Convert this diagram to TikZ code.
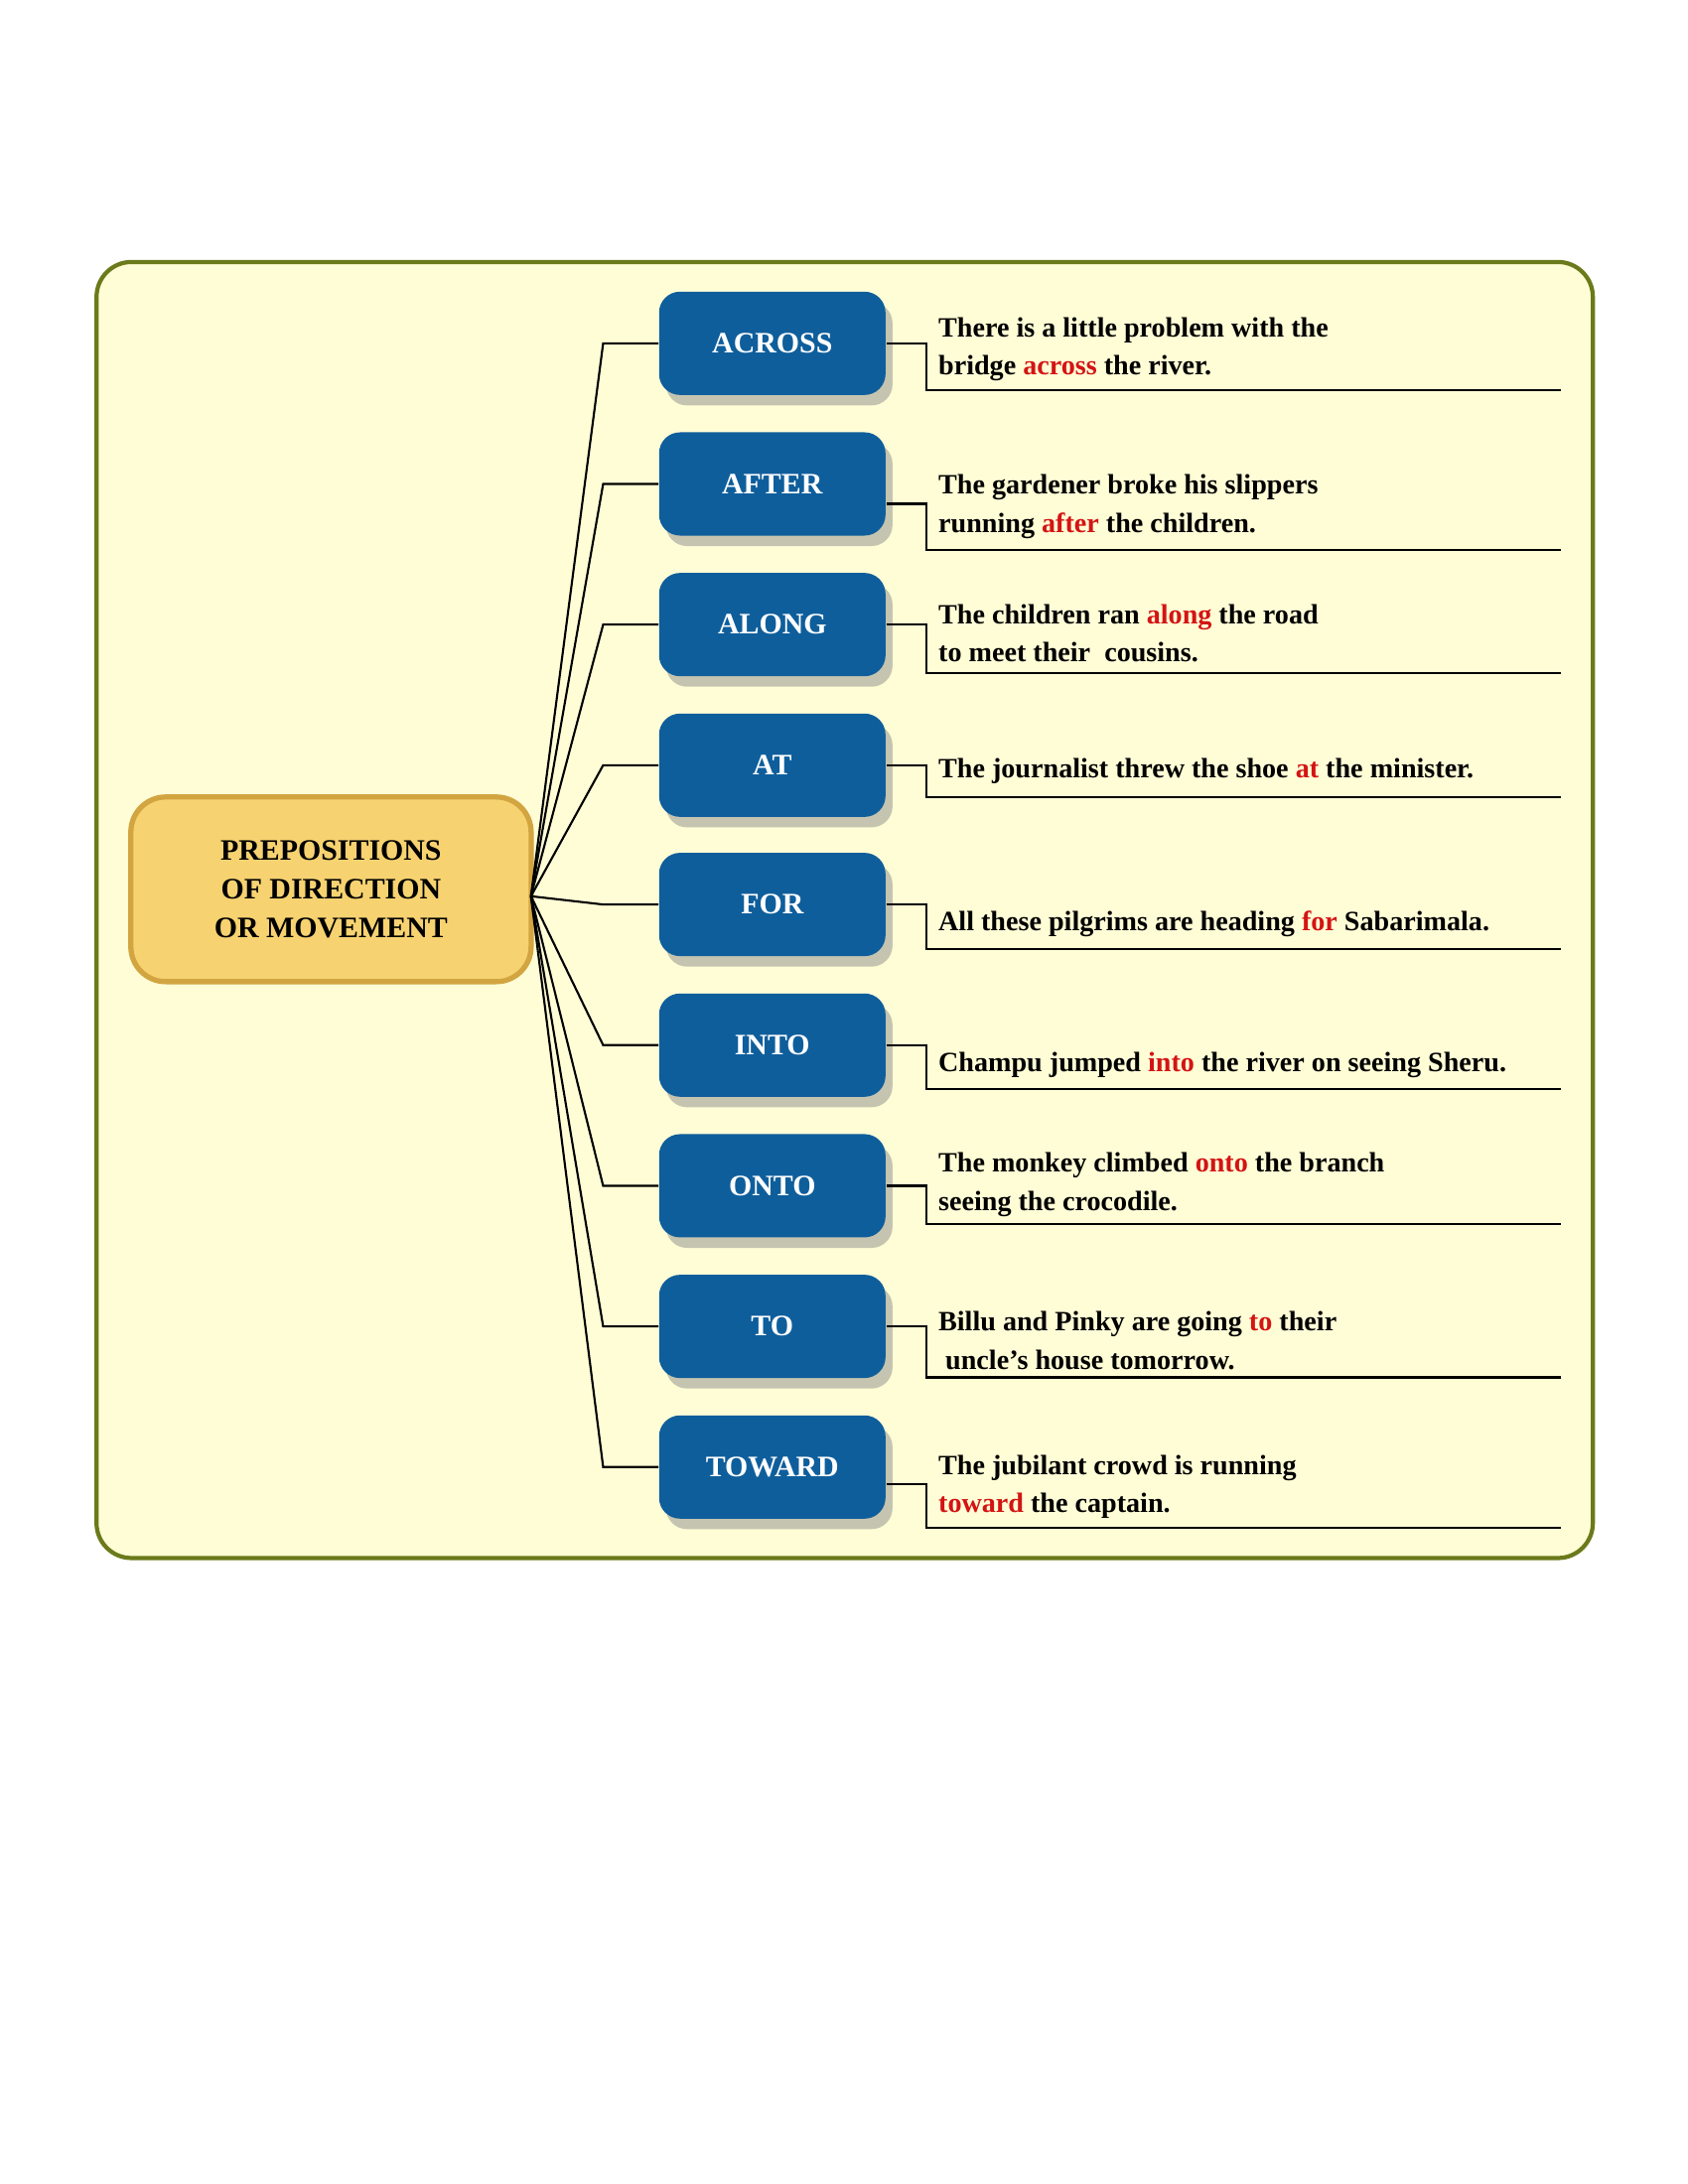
\documentclass[tikz,border=0pt]{standalone}
\usepackage{fontspec}
\setmainfont{Liberation Serif}
\usepackage{xcolor}
\usetikzlibrary{positioning,shadows}
\definecolor{panel}{HTML}{FFFDD6}
\definecolor{panelline}{HTML}{6B7A1A}
\definecolor{boxblue}{HTML}{0F5E9C}
\definecolor{gold}{HTML}{F6D271}
\definecolor{goldline}{HTML}{D2A541}
\definecolor{prep}{HTML}{D41414}
\newcommand{\prp}[1]{\textcolor{prep}{#1}}
\tikzset{
  word/.style={rectangle,rounded corners=6pt,fill=boxblue,text=white,
    minimum width=2.28cm,minimum height=1.04cm,font=\bfseries\fontsize{8.5}{10}\selectfont,
    drop shadow={shadow xshift=2pt,shadow yshift=-3pt,fill=black!45}},
  hubnode/.style={rectangle,rounded corners=10pt,fill=gold,draw=goldline,line width=1.5pt,
    minimum width=4.03cm,minimum height=1.86cm,align=center,
    font=\bfseries\fontsize{8.5}{11}\selectfont},
  sentence/.style={anchor=south west,align=left,inner sep=0pt,
    font=\bfseries\fontsize{8}{11}\selectfont},
  link/.style={draw=black,line width=0.6pt}
}
\begin{document}
\begin{tikzpicture}[x=0.01389cm,y=-0.01389cm]
	\useasboundingbox (0,0) rectangle (1224,1584);
	\draw[fill=panel,draw=panelline,line width=1.2pt,rounded corners=10pt] (70,190) rectangle (1155,1130);

	\node[hubnode] (hub) at (240,645) {PREPOSITIONS\\OF DIRECTION\\OR MOVEMENT};
	\coordinate (fan) at (385,650);

	% preposition boxes
	\node[word] (across) at (560,249) {ACROSS};
	\node[word] (after) at (560,351) {AFTER};
	\node[word] (along) at (560,453) {ALONG};
	\node[word] (at) at (560,555) {AT};
	\node[word] (for) at (560,656) {FOR};
	\node[word] (into) at (560,758) {INTO};
	\node[word] (onto) at (560,860) {ONTO};
	\node[word] (to) at (560,962) {TO};
	\node[word] (toward) at (560,1064) {TOWARD};

	% fan from the hub
	\draw[link] (fan) -- ([xshift=-0.556cm]across.west) -- (across.west);
	\draw[link] (fan) -- ([xshift=-0.556cm]after.west) -- (after.west);
	\draw[link] (fan) -- ([xshift=-0.556cm]along.west) -- (along.west);
	\draw[link] (fan) -- ([xshift=-0.556cm]at.west) -- (at.west);
	\draw[link] (fan) -- ([xshift=-0.556cm]for.west) -- (for.west);
	\draw[link] (fan) -- ([xshift=-0.556cm]into.west) -- (into.west);
	\draw[link] (fan) -- ([xshift=-0.556cm]onto.west) -- (onto.west);
	\draw[link] (fan) -- ([xshift=-0.556cm]to.west) -- (to.west);
	\draw[link] (fan) -- ([xshift=-0.556cm]toward.west) -- (toward.west);

	% underlines
	\coordinate (acrossL) at (672,283); \coordinate (acrossR) at (1132,283);
	\coordinate (afterL) at (672,399); \coordinate (afterR) at (1132,399);
	\coordinate (alongL) at (672,488); \coordinate (alongR) at (1132,488);
	\coordinate (atL) at (672,578); \coordinate (atR) at (1132,578);
	\coordinate (forL) at (672,688); \coordinate (forR) at (1132,688);
	\coordinate (intoL) at (672,790); \coordinate (intoR) at (1132,790);
	\coordinate (ontoL) at (672,888); \coordinate (ontoR) at (1132,888);
	\coordinate (toL) at (672,999); \coordinate (toR) at (1132,999);
	\coordinate (towardL) at (672,1108); \coordinate (towardR) at (1132,1108);

	\draw[link] (across.east) -| (acrossL) -- (acrossR);
	\draw[link] ([yshift=-0.2cm]after.east) -| (afterL) -- (afterR);
	\draw[link] (along.east) -| (alongL) -- (alongR);
	\draw[link] (at.east) -| (atL) -- (atR);
	\draw[link] (for.east) -| (forL) -- (forR);
	\draw[link] (into.east) -| (intoL) -- (intoR);
	\draw[link] (onto.east) -| (ontoL) -- (ontoR);
	\draw[link] (to.east) -| (toL) -- (toR);
	\draw[link] ([yshift=-0.17cm]toward.east) -| (towardL) -- (towardR);

	% example sentences
	\node[sentence] (s1) at (680,277) {There is a little problem with the\\bridge \prp{across} the river.};
	\node[sentence] (s2) at (680,391) {The gardener broke his slippers\\running \prp{after} the children.};
	\node[sentence] (s3) at (680,481) {The children ran \prp{along} the road\\to meet their\ \ cousins.};
	\node[sentence] (s4) at (680,569) {The journalist threw the shoe \prp{at} the minister.};
	\node[sentence] (s5) at (680,680) {All these pilgrims are heading \prp{for} Sabarimala.};
	\node[sentence] (s6) at (680,782) {Champu jumped \prp{into} the river on seeing Sheru.};
	\node[sentence] (s7) at (680,883) {The monkey climbed \prp{onto} the branch\\seeing the crocodile.};
	\node[sentence] (s8) at (680,994) {Billu and Pinky are going \prp{to} their\\\ uncle's house tomorrow.};
	\node[sentence] (s9) at (680,1102) {The jubilant crowd is running\\\prp{toward} the captain.};
\end{tikzpicture}
\end{document}
